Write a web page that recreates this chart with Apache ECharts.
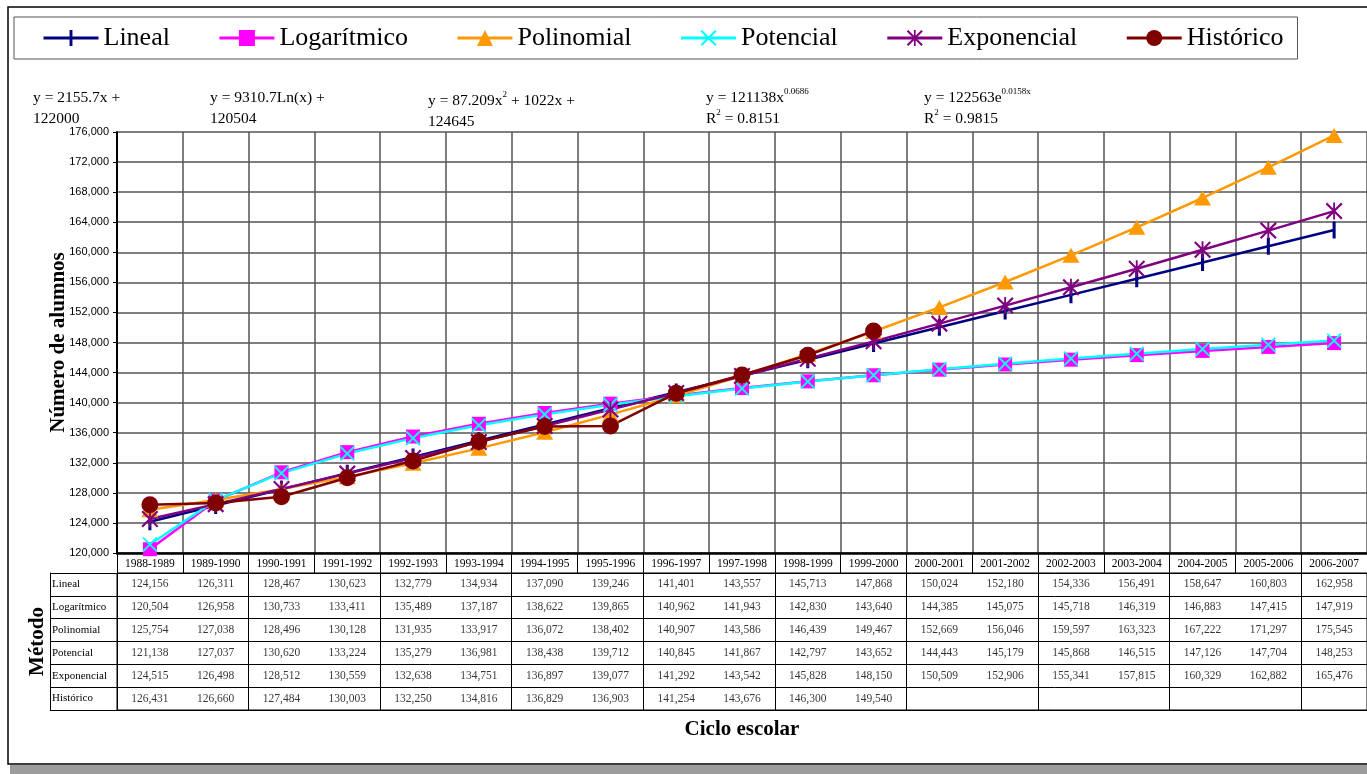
<!DOCTYPE html>
<html>
<head>
<meta charset="utf-8">
<script src="https://cdn.jsdelivr.net/npm/echarts@6/dist/echarts.min.js"></script>
<style>
html, body { margin: 0; padding: 0; background: #fff; }
#chart-root { width: 1367px; height: 774px; }
</style>
</head>
<body>
<div id="chart-root"></div>
<script>
// ciclos escolares (eje x) y métodos (filas de la tabla)
const ciclos = ["1988-1989", "1989-1990", "1990-1991", "1991-1992", "1992-1993", "1993-1994", "1994-1995",
  "1995-1996", "1996-1997", "1997-1998", "1998-1999", "1999-2000", "2000-2001", "2001-2002", "2002-2003",
  "2003-2004", "2004-2005", "2005-2006", "2006-2007"];
const metodos = ["Lineal", "Logarítmico", "Polinomial", "Potencial", "Exponencial", "Histórico"];

const lineal = [124156, 126311, 128467, 130623, 132779, 134934, 137090, 139246, 141401, 143557, 145713, 147868,
  150024, 152180, 154336, 156491, 158647, 160803, 162958];
const logaritmico = [120504, 126958, 130733, 133411, 135489, 137187, 138622, 139865, 140962, 141943, 142830, 143640,
  144385, 145075, 145718, 146319, 146883, 147415, 147919];
const polinomial = [125754, 127038, 128496, 130128, 131935, 133917, 136072, 138402, 140907, 143586, 146439, 149467,
  152669, 156046, 159597, 163323, 167222, 171297, 175545];
const potencial = [121138, 127037, 130620, 133224, 135279, 136981, 138438, 139712, 140845, 141867, 142797, 143652,
  144443, 145179, 145868, 146515, 147126, 147704, 148253];
const exponencial = [124515, 126498, 128512, 130559, 132638, 134751, 136897, 139077, 141292, 143542, 145828, 148150,
  150509, 152906, 155341, 157815, 160329, 162882, 165476];
const historico = [126431, 126660, 127484, 130003, 132250, 134816, 136829, 136903, 141254, 143676, 146300, 149540];

// ecuaciones de tendencia (texto sobre la gráfica)
const ecuaciones = [
  "y = 2155.7x +\n122000",
  "y = 9310.7Ln(x) +\n120504",
  "y = 87.209x{s|2} + 1022x +\n124645",
  "y = 121138x{s|0.0686}\nR{s|2} = 0.8151",
  "y = 122563e{s|0.0158x}\nR{s|2} = 0.9815"
];

const yMin = 120000, yMax = 176000, yStep = 4000;

const serif = "Liberation Serif";
const sans = "Liberation Sans";

// símbolos (cuadro de 10x10 con puntos casi invisibles en las esquinas para que no se deformen)
const corners = "M0,0L0.01,0L0.01,0.01Z M9.99,9.99L10,9.99L10,10Z ";
const symDash = "path://" + corners + "M4.1,0L5.9,0L5.9,10L4.1,10Z";
const symX = "path://M0,0.9L0.9,0L5,4.1L9.1,0L10,0.9L5.9,5L10,9.1L9.1,10L5,5.9L0.9,10L0,9.1L4.1,5Z";
const symStar = "path://M0,0.9L0.9,0L5,4.1L9.1,0L10,0.9L5.9,5L10,9.1L9.1,10L5,5.9L0.9,10L0,9.1L4.1,5Z M4.45,0L5.55,0L5.55,10L4.45,10Z";

const seriesDefs = [
  { name: "Lineal", data: lineal, color: "#000080", symbol: symDash, size: 17 },
  { name: "Logarítmico", data: logaritmico, color: "#FF00FF", symbol: "rect", size: 14 },
  { name: "Polinomial", data: polinomial, color: "#FF9900", symbol: "triangle", size: [17, 15] },
  { name: "Potencial", data: potencial, color: "#00FFFF", symbol: symX, size: 15 },
  { name: "Exponencial", data: exponencial, color: "#800080", symbol: symStar, size: 17 },
  { name: "Histórico", data: historico, color: "#800000", symbol: "circle", size: 17 }
];

const fmt = v => Number(v).toLocaleString("en-US");

// celdas de la tabla
let celdas = [];
seriesDefs.forEach((s, r) => {
  s.data.forEach((v, i) => celdas.push([i, r, v]));
});

let chart = echarts.init(document.getElementById("chart-root"));

let option = {
  animation: false,
  backgroundColor: "#fff",
  graphic: [
    { type: "rect", z: -10, shape: { x: 10, y: 765, width: 1400, height: 12 }, style: { fill: "#9c9c9c" } },
    { type: "rect", z: -9, shape: { x: 8, y: 7, width: 1400, height: 757 }, style: { fill: "#fff", stroke: "#000", lineWidth: 1.5 } }
  ],
  title: ecuaciones.map((t, k) => ({
    text: t,
    left: [33, 210, 428, 706, 924][k],
    top: [87, 87, 90, 87, 87][k],
    padding: 0,
    textStyle: {
      fontFamily: serif, fontSize: 15.5, fontWeight: "normal", color: "#000", lineHeight: 21,
      rich: { s: { fontFamily: serif, fontSize: 9, verticalAlign: "top", lineHeight: 21, color: "#000" } }
    }
  })),
  legend: {
    left: 14,
    top: 17,
    padding: [8, 14, 8, 28],
    itemWidth: 55,
    itemHeight: 20,
    itemGap: 48,
    borderColor: "#555",
    borderWidth: 1,
    lineStyle: { width: 3 },
    textStyle: { fontFamily: serif, fontSize: 26, color: "#000", padding: [0, 0, 0, 0] },
    data: metodos
  },
  grid: [
    { left: 117, right: -1, top: 132, height: 421 },
    { left: 117, right: -1, top: 573, height: 137, show: true, borderColor: "#000", borderWidth: 1 }
  ],
  xAxis: [
    {
      type: "category",
      gridIndex: 0,
      data: ciclos,
      boundaryGap: true,
      axisLine: { lineStyle: { color: "#000", width: 2.5 } },
      axisTick: { show: true, length: 20, lineStyle: { color: "#000", width: 1 } },
      axisLabel: { fontFamily: serif, fontSize: 11.5, color: "#000", margin: 5, interval: 0 },
      splitLine: { show: true, lineStyle: { color: "#555", width: 1.5 } }
    },
    {
      type: "category",
      gridIndex: 1,
      data: ciclos,
      boundaryGap: true,
      axisLine: { show: true, lineStyle: { color: "#000", width: 1 } },
      axisTick: { show: false },
      axisLabel: { show: false },
      splitLine: { show: true, lineStyle: { color: "#000", width: 1 } },
      name: "Ciclo escolar",
      nameLocation: "middle",
      nameGap: 9,
      nameTextStyle: { fontFamily: serif, fontSize: 21, fontWeight: "bold", color: "#000", verticalAlign: "top" }
    }
  ],
  yAxis: [
    {
      type: "value",
      gridIndex: 0,
      min: yMin,
      max: yMax,
      interval: yStep,
      name: "Número de alumnos",
      nameLocation: "middle",
      nameRotate: 90,
      nameGap: 48,
      nameMoveOverlap: false,
      nameTextStyle: { fontFamily: serif, fontSize: 21, fontWeight: "bold", color: "#000" },
      axisLine: { show: true, lineStyle: { color: "#000", width: 2 } },
      axisTick: { show: true, length: 4, lineStyle: { color: "#000" } },
      axisLabel: { fontFamily: sans, fontSize: 11, color: "#000", margin: 8, formatter: v => fmt(v) },
      splitLine: { show: true, lineStyle: { color: "#555", width: 1.5 } }
    },
    {
      type: "category",
      gridIndex: 1,
      data: metodos,
      inverse: true,
      boundaryGap: true,
      name: "Método",
      nameLocation: "middle",
      nameRotate: 90,
      nameGap: 69,
      nameMoveOverlap: false,
      nameTextStyle: { fontFamily: serif, fontSize: 21, fontWeight: "bold", color: "#000" },
      axisLine: { show: true, lineStyle: { color: "#000", width: 1 } },
      axisTick: { show: true, length: 67, lineStyle: { color: "#000", width: 1 } },
      axisLabel: { fontFamily: serif, fontSize: 11, color: "#000", margin: 65, align: "left", padding: [4, 0, 0, 0] },
      splitLine: { show: true, lineStyle: { color: "#000", width: 1 } }
    },
    {
      type: "category",
      gridIndex: 1,
      data: metodos,
      inverse: true,
      position: "left",
      offset: 67,
      axisLine: { show: true, lineStyle: { color: "#000", width: 1 } },
      axisTick: { show: false },
      axisLabel: { show: false },
      splitLine: { show: false }
    }
  ],
  series: seriesDefs.map(s => ({
    name: s.name,
    type: "line",
    xAxisIndex: 0,
    yAxisIndex: 0,
    data: s.data,
    symbol: s.symbol,
    symbolSize: s.size,
    showAllSymbol: true,
    clip: false,
    itemStyle: { color: s.color },
    lineStyle: { color: s.color, width: 2.5 }
  })).concat([{
    name: "tabla",
    type: "scatter",
    xAxisIndex: 1,
    yAxisIndex: 1,
    data: celdas,
    symbolSize: 1,
    silent: true,
    itemStyle: { color: "rgba(0,0,0,0)" },
    label: {
      show: true,
      position: "inside",
      fontFamily: serif,
      fontSize: 11.5,
      color: "#000",
      formatter: p => fmt(p.value[2])
    }
  }])
};

chart.setOption(option);
window.onresize = chart.resize;
</script>
</body>
</html>
